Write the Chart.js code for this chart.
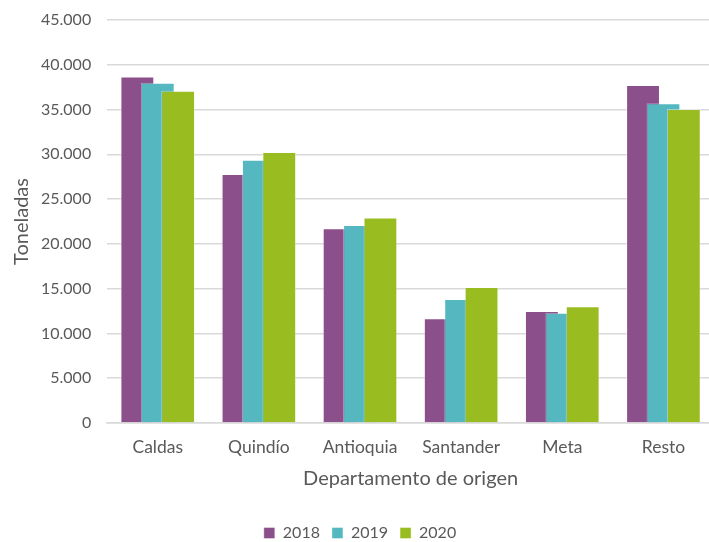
<!DOCTYPE html>
<html>
<head>
<meta charset="utf-8">
<script src="https://cdn.jsdelivr.net/npm/chart.js@4/dist/chart.umd.min.js"></script>
<style>
  html, body { margin: 0; padding: 0; background: #fff; overflow: hidden; }
  #wrap { width: 714px; height: 542px; }
</style>
</head>
<body>
<div id="wrap"><canvas id="chart"></canvas></div>
<script>
const categories = ['Caldas', 'Quindío', 'Antioquia', 'Santander', 'Meta', 'Resto'];
const years = ['2018', '2019', '2020'];
const values2018 = [38700, 27800, 21750, 11700, 12500, 37750];
const values2019 = [38000, 29400, 22100, 13850, 12300, 35700];
const values2020 = [37100, 30250, 22950, 15200, 13050, 35050];
const yTicks = [0, 5000, 10000, 15000, 20000, 25000, 30000, 35000, 40000, 45000];
const colors = ['#8B4F8B', '#55B7C0', '#99BC21'];

const series = [values2018, values2019, values2020];
const font = 'Lato, "Noto Sans", sans-serif';

function fmt(v) {
    return String(v).replace(/\B(?=(\d{3})+(?!\d))/g, '.');
}

// draw datasets in index order so later years overlap earlier ones (like Excel)
const overlapOrder = {
    id: 'overlapOrder',
    beforeDatasetsDraw(chart) {
        for (let i = 0; i < chart.data.datasets.length; i++) {
            chart.getDatasetMeta(i).controller.draw();
        }
        return false;
    }
};

new Chart(document.getElementById('chart'), {
    type: 'bar',
    data: {
        labels: categories,
        datasets: series.map((s, i) => ({
            label: years[i],
            data: s,
            backgroundColor: colors[i],
            borderColor: 'rgba(255,255,255,0.4)',
            borderWidth: 1,
            categoryPercentage: 0.605,
            barPercentage: 1.66
        }))
    },
    options: {
        responsive: true,
        maintainAspectRatio: false,
        animation: false,
        events: [],
        layout: { padding: { top: 2, left: 6, right: 0, bottom: -9 } },
        scales: {
            x: {
                grid: { display: false, drawTicks: false },
                border: { display: true, color: '#d9d9d9', width: 1.5 },
                ticks: { color: '#595959', font: { family: font, size: 17.5 }, padding: 14 },
                title: {
                    display: true,
                    text: 'Departamento de origen',
                    color: '#595959',
                    font: { family: font, size: 20 },
                    padding: { top: -5, bottom: 22 }
                }
            },
            y: {
                min: 0,
                max: 45000,
                afterBuildTicks(scale) { scale.ticks = yTicks.map(v => ({ value: v })); },
                // tick padding also pads the top; keep only the label overhang there
                afterFit(scale) { scale.paddingTop = 20; },
                grid: { color: '#d9d9d9', lineWidth: 1.5, drawTicks: false },
                border: { display: false },
                ticks: {
                    color: '#595959',
                    font: { family: font, size: 16 },
                    padding: 16,
                    callback: v => fmt(v)
                },
                title: {
                    display: true,
                    text: 'Toneladas',
                    color: '#595959',
                    font: { family: font, size: 20 },
                    padding: { top: 4, bottom: -9 }
                }
            }
        },
        plugins: {
            legend: {
                position: 'bottom',
                labels: {
                    color: '#595959',
                    font: { family: font, size: 16 },
                    boxWidth: 11,
                    boxHeight: 11,
                    padding: 12
                }
            },
            tooltip: { enabled: false }
        }
    },
    plugins: [overlapOrder]
});
</script>
</body>
</html>
